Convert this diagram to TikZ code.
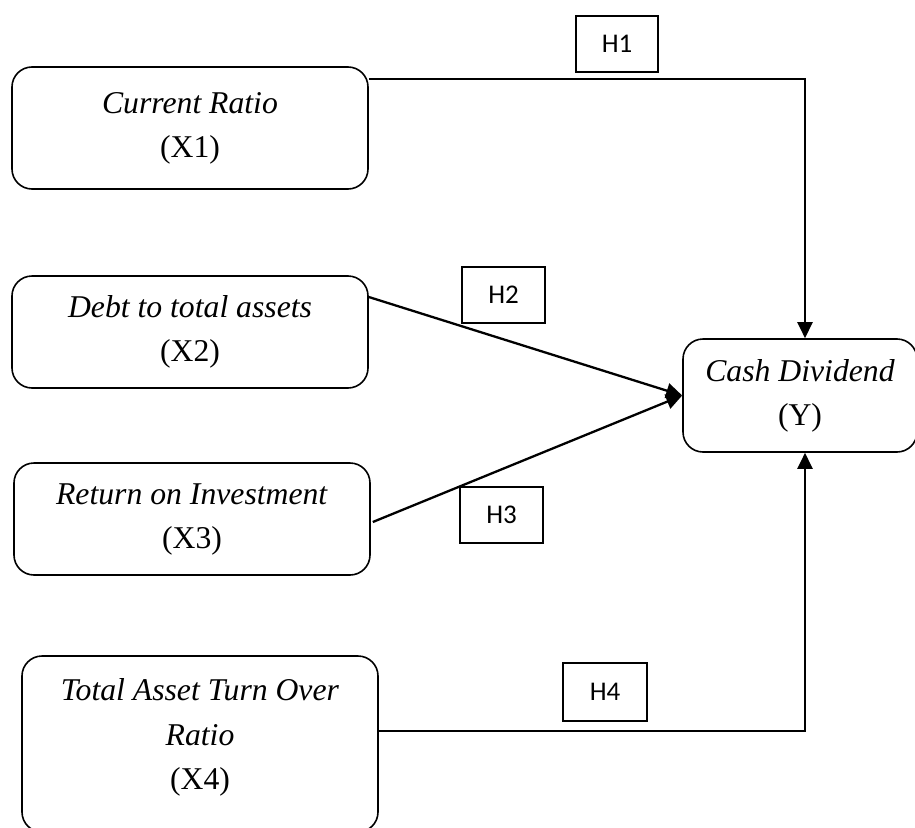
\documentclass[tikz,border=0pt]{standalone}
\usepackage{fontspec}
\setmainfont{Liberation Serif}
\newfontfamily\hfont{Carlito}
\usetikzlibrary{arrows.meta}
\tikzset{
  varbox/.style={draw=black, line width=1.6pt, rounded corners=20pt, align=center,
    inner sep=0pt, font=\fontsize{31.7}{44}\selectfont},
  hbox/.style={draw=black, line width=1.7pt, inner sep=0pt, font=\hfont\fontsize{27}{32}\selectfont},
  txt/.style={align=center, inner sep=0pt, font=\fontsize{31.7}{44.5}\selectfont},
  conn/.style={line width=2.3pt, -{Triangle[length=16pt,width=15pt]}}
}
\begin{document}
\begin{tikzpicture}[x=1pt,y=-1pt]
\useasboundingbox (0,0) rectangle (915,827);
\begin{scope}
\clip (0,0) rectangle (915,827);
\node[varbox, minimum width=356pt, minimum height=122pt] (X1) at (190,128) {\textit{Current Ratio}\\(X1)};
\node[varbox, minimum width=356pt, minimum height=112pt] (X2) at (190,332) {\textit{Debt to total assets}\\(X2)};
\node[varbox, minimum width=356pt, minimum height=112pt] (X3) at (192,519) {\textit{Return on Investment}\\(X3)};
\node[varbox, minimum width=356pt, minimum height=176pt] (X4) at (200,744) {};
\node[txt] (X4t) at (200,737.5) {\textit{Total Asset Turn Over}\\\textit{Ratio}\\(X4)};
\node[varbox, minimum width=234pt, minimum height=113pt] (Y) at (800,395.5) {\textit{Cash Dividend}\\(Y)};

\node[hbox, minimum width=82pt, minimum height=56pt] (H1) at (617,44) {H1};
\node[hbox, minimum width=83pt, minimum height=56pt] (H2) at (503.5,295) {H2};
\node[hbox, minimum width=83pt, minimum height=56pt] (H3) at (501.5,515) {H3};
\node[hbox, minimum width=84pt, minimum height=58pt] (H4) at (605,692) {H4};

\coordinate (Ytop) at ([xshift=5pt]Y.north);
\coordinate (Ybot) at ([xshift=5pt]Y.south);
\coordinate (X1out) at ([yshift=-13pt]X1.north east);
\coordinate (X2out) at ([yshift=35pt]X2.east);
\coordinate (X3out) at ([xshift=2pt,yshift=-3pt]X3.east);
\coordinate (X4out) at ([yshift=-76pt]X4.north east);

\draw[conn] (X1out) -| (Ytop);
\draw[conn] (X2out) -- (Y.west);
\draw[conn] (X3out) -- (Y.west);
\draw[conn] (X4out) -| (Ybot);
\end{scope}
\end{tikzpicture}
\end{document}
